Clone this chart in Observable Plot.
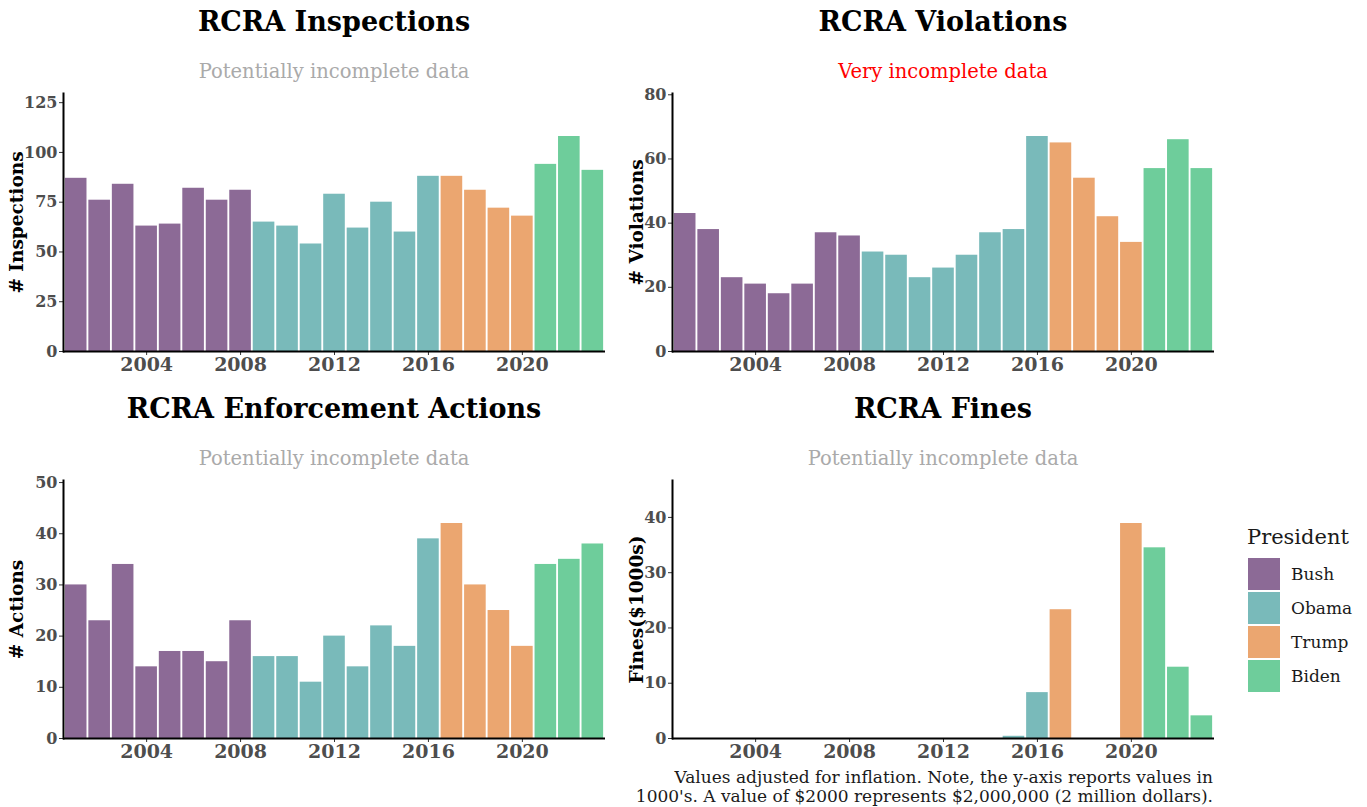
<!DOCTYPE html>
<html>
<head>
<meta charset="utf-8">
<script src="https://cdn.jsdelivr.net/npm/d3@7"></script>
<script src="https://cdn.jsdelivr.net/npm/@observablehq/plot@0.6"></script>
<style>
  html, body { margin: 0; padding: 0; background: #fff; }
  body { width: 1367px; height: 807px; position: relative; overflow: hidden; font-family: "DejaVu Serif", serif; }
  .title { position: absolute; text-align: center; font-weight: bold; font-size: 27px; line-height: 30px; color: #000; }
  .subtitle { position: absolute; text-align: center; font-size: 19.5px; line-height: 22px; }
  .plot { position: absolute; }
  .legend { position: absolute; left: 1247px; top: 522px; }
  .legend .lt { font-size: 21px; line-height: 30px; color: #1a1a1a; margin-bottom: 5px; }
  .legend .item { display: flex; align-items: center; height: 34px; }
  .legend .sw { width: 32px; height: 32px; margin: 1px 0 1px 1px; }
  .legend .lab { margin-left: 11px; font-size: 17px; color: #1a1a1a; }
  .caption { position: absolute; right: 154px; top: 768px; text-align: right; font-size: 17px; line-height: 19px; color: #1a1a1a; }
</style>
</head>
<body>
<script>
const years = [2001,2002,2003,2004,2005,2006,2007,2008,2009,2010,2011,2012,2013,2014,2015,2016,2017,2018,2019,2020,2021,2022,2023];
const presidentOfYear = ["Bush","Bush","Bush","Bush","Bush","Bush","Bush","Bush","Obama","Obama","Obama","Obama","Obama","Obama","Obama","Obama","Trump","Trump","Trump","Trump","Biden","Biden","Biden"];
const presidents = ["Bush","Obama","Trump","Biden"];
const presidentColors = ["#8c6a96","#79baba","#eba670","#6ecd9b"];

const inspections = [87,76,84,63,64,82,76,81,65,63,54,79,62,75,60,88,88,81,72,68,94,108,91];
const violations  = [43,38,23,21,18,21,37,36,31,30,23,26,30,37,38,67,65,54,42,34,57,66,57];
const actions     = [30,23,34,14,17,17,15,23,16,16,11,20,14,22,18,39,42,30,25,18,34,35,38];
const fines       = [0,0,0,0,0,0,0,0,0,0,0,0,0,0,0.4,8.3,23.3,0,0,38.9,34.5,12.9,4.1];

const xTicks = [2004,2008,2012,2016,2020];
const inspTicks = [0,25,50,75,100,125];
const violTicks = [0,20,40,60,80];
const actTicks  = [0,10,20,30,40,50];
const fineTicks = [0,10,20,30,40];

const panels = [
  {left: 0,   top: 0,   labDx: -46, title: "RCRA Inspections", sub: "Potentially incomplete data", subColor: "#aaaaaa", ylabel: "# Inspections", values: inspections, ticks: inspTicks},
  {left: 609, top: 0,   labDx: -35, title: "RCRA Violations", sub: "Very incomplete data", subColor: "#ff0000", ylabel: "# Violations", values: violations, ticks: violTicks},
  {left: 0,   top: 387, labDx: -46, title: "RCRA Enforcement Actions", sub: "Potentially incomplete data", subColor: "#aaaaaa", ylabel: "# Actions", values: actions, ticks: actTicks},
  {left: 609, top: 387, labDx: -35, title: "RCRA Fines", sub: "Potentially incomplete data", subColor: "#aaaaaa", ylabel: "Fines($1000s)", values: fines, ticks: fineTicks}
];

const W = 610, H = 300, ML = 63, MR = 5, MT = 8, MB = 34;

for (const p of panels) {
  const data = years.map((y, i) => ({year: y, value: p.values[i], president: presidentOfYear[i]}));
  const ymax = d3.max(p.values) * 1.2;

  const t = document.createElement("div");
  t.className = "title";
  t.style.left = (p.left + ML) + "px";
  t.style.width = (W - ML - MR) + "px";
  t.style.top = (p.top + 7) + "px";
  t.textContent = p.title;
  document.body.appendChild(t);

  const s = document.createElement("div");
  s.className = "subtitle";
  s.style.left = (p.left + ML) + "px";
  s.style.width = (W - ML - MR) + "px";
  s.style.top = (p.top + 61) + "px";
  s.style.color = p.subColor;
  s.textContent = p.sub;
  document.body.appendChild(s);

  const chart = Plot.plot({
    width: W, height: H,
    marginLeft: ML, marginRight: MR, marginTop: MT, marginBottom: MB,
    style: {fontFamily: "DejaVu Serif", background: "transparent", overflow: "visible"},
    x: {type: "band", domain: years, paddingInner: 0.08, paddingOuter: 0.08, round: false},
    y: {domain: [0, ymax]},
    color: {domain: presidents, range: presidentColors},
    marks: [
      Plot.barY(data, {x: "year", y: "value", fill: "president"}),
      Plot.axisX({ticks: xTicks, tickFormat: d => String(d), tickSize: 4, tickPadding: 2, fontSize: 19, fontWeight: "bold", color: "#4d4d4d", stroke: "#333", label: null}),
      Plot.axisY({ticks: p.ticks, tickFormat: d => String(d), tickSize: 4, tickPadding: 2, fontSize: 16, fontWeight: "bold", color: "#4d4d4d", stroke: "#333", label: null}),
      Plot.ruleY([0], {stroke: "#000", strokeWidth: 2}),
      Plot.frame({anchor: "left", stroke: "#000", strokeWidth: 2}),
      Plot.text([p.ylabel], {frameAnchor: "left", rotate: -90, dx: p.labDx, textAnchor: "middle", fontSize: 18.5, fontWeight: "bold", fill: "#000"})
    ]
  });
  chart.classList.add("plot");
  chart.style.left = p.left + "px";
  chart.style.top = (p.top + 85) + "px";
  chart.style.position = "absolute";
  document.body.appendChild(chart);
}

// legend
const lg = document.createElement("div");
lg.className = "legend";
let html = '<div class="lt">President</div>';
presidents.forEach((n, i) => {
  html += `<div class="item"><div class="sw" style="background:${presidentColors[i]}"></div><div class="lab">${n}</div></div>`;
});
lg.innerHTML = html;
document.body.appendChild(lg);

const cap = document.createElement("div");
cap.className = "caption";
cap.innerHTML = "Values adjusted for inflation. Note, the y-axis reports values in<br>1000's. A value of $2000 represents $2,000,000 (2 million dollars).";
document.body.appendChild(cap);
</script>
</body>
</html>
